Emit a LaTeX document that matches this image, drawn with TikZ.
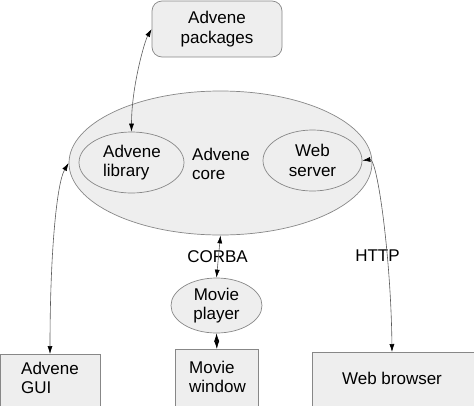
\documentclass[tikz,border=0pt]{standalone}
\usepackage{fontspec}
\setmainfont{Liberation Sans}
\usetikzlibrary{shapes.geometric,arrows.meta}
\definecolor{fillc}{RGB}{238,238,238}
\definecolor{edgec}{RGB}{135,135,135}
\definecolor{linec}{RGB}{90,90,90}
\begin{document}
\begin{tikzpicture}[x=1pt,y=-1pt,
  every node/.style={font=\fontsize{17}{19.5}\selectfont, inner sep=0pt},
  oval/.style={ellipse, draw=edgec, fill=fillc, line width=0.7pt},
  boxnode/.style={rectangle, draw=edgec, fill=fillc, line width=0.7pt},
  txt/.style={align=center},
  txtl/.style={align=left},
  link/.style={draw=linec, line width=0.6pt, {Latex[length=8pt,width=5pt,black]}-{Latex[length=8pt,width=5pt,black]}}
]
\useasboundingbox (0,0) rectangle (474,405);
% top box
\node[boxnode, rounded corners=10pt, minimum width=130pt, minimum height=56pt] (pkg) at (217,29) {};
\node[txt] (pkgt) at (217,29) {Advene\\packages};
% core
\node[oval, minimum width=303pt, minimum height=144pt] (core) at (220.5,163) {};
\node[txtl] (coret) at (221,164) {Advene\\core};
\node[oval, minimum width=105pt, minimum height=61pt] (lib) at (131.5,162.5) {};
\node[txtl] (libt) at (132,162.5) {Advene\\library};
\node[oval, minimum width=99pt, minimum height=61pt] (ws) at (312.5,160.5) {};
\node[txt] (wst) at (312.5,160.5) {Web\\server};
% player
\node[oval, minimum width=91pt, minimum height=55pt] (player) at (216.5,305.5) {};
\node[txt] (playert) at (216.5,305.5) {Movie\\player};
% bottom boxes
\node[boxnode, minimum width=99.5pt, minimum height=66pt, anchor=north west] (gui) at (0.5,354) {};
\node[txtl] (guit) at (50,378) {Advene\\GUI};
\node[boxnode, minimum width=83pt, minimum height=71pt, anchor=north west] (win) at (175,349) {};
\node[txtl] (wint) at (217.5,377) {Movie\\window};
\node[boxnode, minimum width=170pt, minimum height=68pt, anchor=north west] (web) at (312,352) {};
\node[txt] (webt) at (392,378) {Web browser};
% labels
\node (corba) at (217.5,256.5) {CORBA};
\node (http) at (377.5,255.5) {HTTP};
% connectors
\coordinate (guitop) at (50,354);
\coordinate (webtop) at (392,352);
\draw[link] (lib.north) .. controls +(0,-45) and +(-7,12) .. (pkg.west);
\draw[link] (guitop) .. controls +(0,-100) and +(-12,20) .. (core.west);
\draw[link] (webtop) .. controls +(-1,-95) and +(15,-2) .. (ws.east);
\draw[link] (core.south) -- (player.north);
\draw[link] (player.south) -- (win.north);
\end{tikzpicture}
\end{document}
